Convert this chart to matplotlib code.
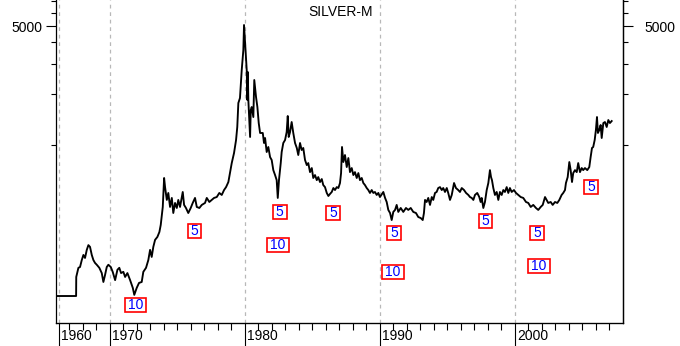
"""
SILVER-M: long-term silver price chart (US cents per ounce, log scale)
with the 5 / 10 cycle-low tags.
"""

import matplotlib.pyplot as plt
from matplotlib.path import Path
from matplotlib.ticker import NullFormatter

plt.rcParams['font.family'] = ['Liberation Sans', 'DejaVu Sans']

# price readings, cents per ounce
years = [
    1966.00, 1967.50, 1967.51, 1967.67, 1967.79, 1967.92, 1968.04, 1968.16, 1968.29, 1968.41,
    1968.53, 1968.66, 1968.78, 1968.90, 1969.03, 1969.22, 1969.40, 1969.52, 1969.64, 1969.77,
    1969.89, 1970.07, 1970.21, 1970.39, 1970.56, 1970.70, 1970.83, 1971.00, 1971.13, 1971.30,
    1971.50, 1971.70, 1971.81, 1971.99, 1972.16, 1972.36, 1972.48, 1972.68, 1972.85, 1972.98,
    1973.10, 1973.22, 1973.35, 1973.52, 1973.67, 1973.77, 1973.92, 1974.02, 1974.09, 1974.22,
    1974.33, 1974.46, 1974.59, 1974.70, 1974.83, 1974.96, 1975.07, 1975.20, 1975.40, 1975.50,
    1975.64, 1975.81, 1975.99, 1976.14, 1976.31, 1976.44, 1976.63, 1976.81, 1977.05, 1977.18,
    1977.37, 1977.55, 1977.72, 1977.92, 1978.11, 1978.29, 1978.46, 1978.61, 1978.78, 1978.90,
    1979.03, 1979.20, 1979.35, 1979.44, 1979.52, 1979.64, 1979.77, 1979.89, 1979.94, 1980.02,
    1980.09, 1980.14, 1980.19, 1980.22, 1980.26, 1980.33, 1980.39, 1980.44, 1980.51, 1980.63,
    1980.70, 1980.83, 1980.93, 1981.03, 1981.13, 1981.33, 1981.42, 1981.50, 1981.62, 1981.74,
    1981.87, 1981.99, 1982.11, 1982.24, 1982.36, 1982.44, 1982.53, 1982.66, 1982.73, 1982.85,
    1982.98, 1983.10, 1983.18, 1983.25, 1983.35, 1983.47, 1983.59, 1983.72, 1983.85, 1983.96,
    1984.09, 1984.21, 1984.33, 1984.46, 1984.59, 1984.70, 1984.83, 1984.96, 1985.07, 1985.20,
    1985.33, 1985.44, 1985.57, 1985.70, 1985.81, 1985.94, 1986.07, 1986.19, 1986.31, 1986.44,
    1986.56, 1986.68, 1986.81, 1986.93, 1987.05, 1987.13, 1987.20, 1987.30, 1987.42, 1987.55,
    1987.67, 1987.79, 1987.92, 1988.04, 1988.16, 1988.29, 1988.41, 1988.53, 1988.66, 1988.78,
    1988.90, 1989.03, 1989.15, 1989.27, 1989.40, 1989.52, 1989.64, 1989.77, 1989.89, 1990.01,
    1990.26, 1990.39, 1990.51, 1990.63, 1990.76, 1990.88, 1991.00, 1991.13, 1991.25, 1991.37,
    1991.55, 1991.74, 1991.94, 1992.11, 1992.29, 1992.48, 1992.68, 1992.85, 1993.03, 1993.18,
    1993.27, 1993.35, 1993.47, 1993.59, 1993.72, 1993.85, 1993.96, 1994.09, 1994.21, 1994.33,
    1994.46, 1994.59, 1994.70, 1994.83, 1994.96, 1995.07, 1995.20, 1995.33, 1995.50, 1995.64,
    1995.81, 1995.94, 1996.07, 1996.24, 1996.39, 1996.56, 1996.68, 1996.81, 1996.93, 1997.05,
    1997.22, 1997.37, 1997.47, 1997.55, 1997.67, 1997.79, 1997.92, 1998.04, 1998.16, 1998.24,
    1998.31, 1998.41, 1998.53, 1998.66, 1998.78, 1998.90, 1999.03, 1999.15, 1999.27, 1999.40,
    1999.52, 1999.64, 1999.77, 1999.94, 2000.09, 2000.26, 2000.44, 2000.63, 2000.83, 2001.00,
    2001.18, 2001.37, 2001.57, 2001.74, 2001.92, 2002.07, 2002.24, 2002.36, 2002.48, 2002.66,
    2002.81, 2002.98, 2003.15, 2003.30, 2003.47, 2003.59, 2003.72, 2003.79, 2003.92, 2004.04,
    2004.14, 2004.24, 2004.33, 2004.46, 2004.59, 2004.70, 2004.83, 2004.96, 2005.07, 2005.20,
    2005.37, 2005.52, 2005.62, 2005.72, 2005.81, 2005.92, 2006.01, 2006.09, 2006.16, 2006.26,
    2006.36, 2006.44, 2006.56, 2006.68, 2006.81, 2006.93, 2007.05, 2007.18,
]
prices = [
    129, 129, 167, 189, 191, 210, 225, 216, 241, 257,
    251, 225, 210, 202, 197, 189, 176, 156, 171, 191,
    197, 191, 179, 160, 184, 189, 176, 179, 167, 176,
    160, 144, 131, 144, 154, 156, 179, 189, 210, 241,
    219, 251, 276, 287, 307, 338, 431, 638, 564, 474,
    521, 431, 487, 397, 455, 425, 474, 431, 528, 443,
    425, 397, 425, 455, 487, 431, 425, 443, 455, 487,
    461, 474, 487, 493, 521, 507, 542, 564, 604, 682,
    781, 895, 1067, 1273, 1762, 1885, 2754, 3612, 5068, 3971,
    3285, 2754, 1835, 2681, 1835, 1399, 1112, 1603, 1669, 1457,
    2406, 1911, 1669, 1343, 1174, 1174, 1025, 1097, 907, 971,
    847, 814, 710, 664, 620, 487, 620, 781, 907, 1025,
    1067, 1189, 1477, 1112, 1189, 1362, 1174, 1025, 958, 871,
    1025, 932, 958, 814, 760, 781, 691, 730, 638, 664,
    620, 646, 604, 629, 580, 564, 521, 500, 514, 528,
    557, 542, 564, 557, 596, 682, 971, 792, 871, 740,
    836, 691, 730, 664, 691, 638, 682, 620, 638, 596,
    580, 557, 542, 521, 542, 521, 528, 507, 521, 493,
    528, 487, 461, 414, 397, 361, 403, 414, 443, 403,
    425, 403, 425, 414, 425, 403, 397, 376, 371, 361,
    397, 474, 461, 487, 443, 493, 474, 521, 528, 557,
    564, 542, 557, 528, 557, 521, 474, 507, 596, 557,
    542, 528, 557, 542, 521, 507, 493, 487, 474, 507,
    521, 493, 461, 487, 425, 461, 542, 596, 710, 646,
    620, 557, 507, 528, 474, 528, 507, 542, 528, 564,
    521, 557, 528, 542, 521, 507, 493, 487, 461, 455,
    431, 443, 425, 414, 431, 443, 493, 474, 455, 461,
    443, 461, 455, 474, 507, 521, 542, 596, 646, 792,
    710, 604, 682, 710, 691, 781, 691, 730, 710, 730,
    710, 740, 847, 958, 971, 1067, 1222, 1457, 1174, 1222,
    1308, 1097, 1343, 1362, 1273, 1399, 1343, 1380,
]

# cycle tags placed under the lows
tag_years = [1971.89, 1976.27, 1982.59, 1982.46, 1986.56, 1991.04, 1990.98,
             1997.83, 2001.64, 2001.79, 2005.64]
tag_prices = [114, 313, 403, 257, 397, 303, 179, 356, 303, 193, 564]
tag_texts = ['10', '5', '5', '10', '5', '5', '10', '5', '5', '10', '5']

decade_pos = [1966.2, 1970, 1980, 1990, 2000]
decade_labels = ['1960', '1970', '1980', '1990', '2000']
year_ticks = list(range(1967, 2008))
y_major = [5000]
y_minor = [1000, 2000, 3000, 4000, 6000, 7000]


def tag_box(x0, y0, width, height, mutation_size):
    # wide but flat box round the tag text
    padx = 0.22 * mutation_size
    pady = 0.0
    verts = [(x0 - padx, y0 - pady), (x0 + width + padx, y0 - pady),
             (x0 + width + padx, y0 + height + pady), (x0 - padx, y0 + height + pady),
             (x0 - padx, y0 - pady)]
    return Path(verts, closed=True)


def style_y(axis_obj, pad):
    axis_obj.set_yscale('log')
    axis_obj.set_ylim(89.5, 7111)
    axis_obj.set_yticks(y_major, labels=[str(v) for v in y_major])
    axis_obj.set_yticks(y_minor, minor=True)
    axis_obj.yaxis.set_minor_formatter(NullFormatter())
    axis_obj.tick_params(axis='y', which='major', length=7, width=0.8, pad=pad,
                         labelsize=10, direction='out')
    axis_obj.tick_params(axis='y', which='minor', length=3.6, width=0.8, direction='out')
    axis_obj.spines['top'].set_visible(False)


fig = plt.figure(figsize=(6.8, 3.46), dpi=100)
ax = fig.add_axes([56 / 680, 23 / 346, (623.3 - 56) / 680, 323 / 346])

ax.plot(years, prices, color='black', lw=1.35)
ax.set_xlim(1966.01, 2008.04)
style_y(ax, 2.5)

ax2 = ax.twinx()
style_y(ax2, 8)
ax2.spines['left'].set_visible(False)

for sp in ['left', 'bottom', 'right']:
    ax.spines[sp].set_linewidth(0.9)
ax2.spines['right'].set_linewidth(0.9)

# x axis: long decade ticks with labels beside them, short yearly ticks
ax.set_xticks(decade_pos)
ax.set_xticklabels([])
ax.set_xticks(year_ticks, minor=True)
ax.tick_params(axis='x', which='major', length=16.6, width=0.8, direction='out')
ax.tick_params(axis='x', which='minor', length=5.3, width=0.8, direction='out')
ax.grid(axis='x', which='major', color='#b8b8b8', linestyle=(0, (3, 3)), linewidth=0.9)

for pos, lab in zip(decade_pos, decade_labels):
    ax.annotate(lab, xy=(pos, 0), xycoords=('data', 'axes fraction'),
                xytext=(1.5, -9.6), textcoords='offset points',
                ha='left', va='center', fontsize=10, annotation_clip=False)

ax.text(0.502, 0.963, 'SILVER-M', transform=ax.transAxes,
        ha='center', va='center', fontsize=10)

for yr, pr, txt in zip(tag_years, tag_prices, tag_texts):
    ax.text(yr, pr, txt, ha='center', va='center', color='#0000ff', fontsize=10,
            bbox=dict(boxstyle=tag_box, fc='white', ec='#ff0000', lw=1.2))

fig.savefig('out.png', dpi=100)
